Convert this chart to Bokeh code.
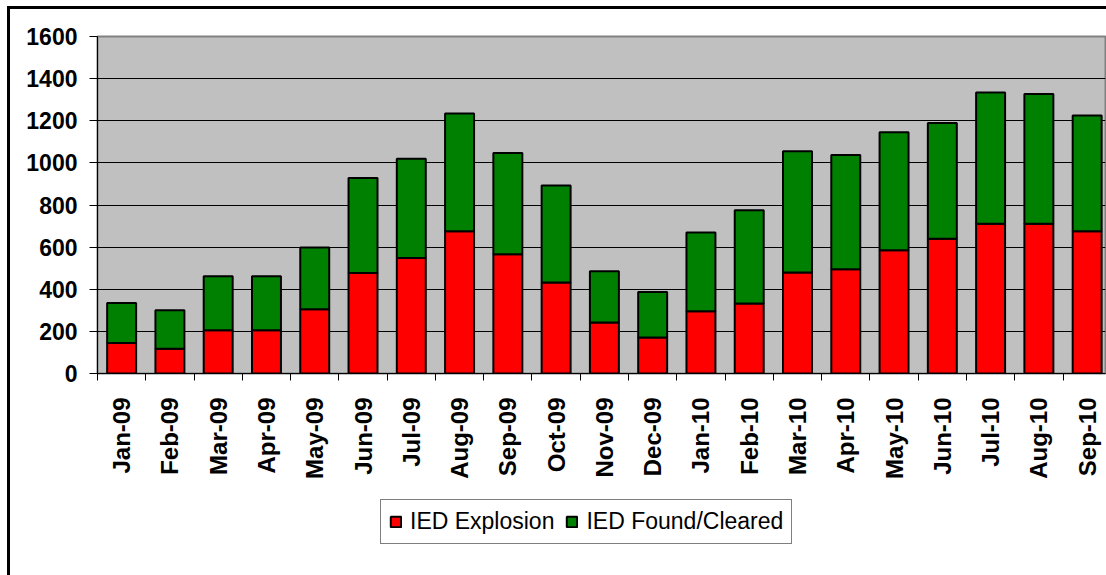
import math
import numpy as np
from bokeh.plotting import figure
from bokeh.layouts import column
from bokeh.models import ColumnDataSource, Range1d, FixedTicker, Legend, LegendItem
from bokeh.embed import file_html
from bokeh.resources import INLINE

# ---- data ----
months = ["Jan-09", "Feb-09", "Mar-09", "Apr-09", "May-09", "Jun-09", "Jul-09",
          "Aug-09", "Sep-09", "Oct-09", "Nov-09", "Dec-09", "Jan-10", "Feb-10",
          "Mar-10", "Apr-10", "May-10", "Jun-10", "Jul-10", "Aug-10", "Sep-10"]
ied_explosion = [145, 118, 205, 205, 305, 477, 548, 675, 566, 432, 242, 171,
                 296, 332, 479, 495, 585, 640, 711, 711, 675]
ied_found_cleared = [190, 182, 257, 257, 293, 451, 472, 560, 481, 461, 243, 216,
                     373, 443, 576, 542, 560, 549, 623, 616, 550]
series_labels = ["IED Explosion", "IED Found/Cleared"]
series_colors = ["#FF0000", "#008000"]
y_ticks = [0, 200, 400, 600, 800, 1000, 1200, 1400, 1600]

FONT = "Liberation Sans"

x_centers = [i + 0.5 for i in range(len(months))]
boundaries = list(range(len(months) + 1))

src = ColumnDataSource(dict(x=x_centers, explosion=ied_explosion, found=ied_found_cleared))

# ---------------- main chart ----------------
p = figure(width=1096, height=484,
           x_range=Range1d(0, 20.88), y_range=Range1d(0, 1600),
           output_backend="svg", toolbar_location=None,
           min_border_left=87, min_border_top=27, min_border_right=1,
           min_border_bottom=120)

p.background_fill_color = "#C0C0C0"
p.border_fill_color = "white"
p.outline_line_color = "#808080"
p.outline_line_width = 2

rs = p.vbar_stack(["explosion", "found"], x="x", width=0.6, source=src,
                  fill_color=series_colors, line_color="black", line_width=2)

# grid
p.xgrid.visible = False
p.ygrid.ticker = FixedTicker(ticks=y_ticks[1:-1])
p.ygrid.grid_line_color = "black"
p.ygrid.grid_line_width = 1

# x axis
xa = p.xaxis[0]
xa.ticker = FixedTicker(ticks=x_centers, minor_ticks=boundaries)
xa.major_label_overrides = {xc: m for xc, m in zip(x_centers, months)}
xa.major_tick_out = 0
xa.major_tick_in = 0
xa.minor_tick_out = 7
xa.minor_tick_in = 0
xa.minor_tick_line_color = "black"
xa.axis_line_color = "black"
xa.major_label_orientation = math.pi / 2
xa.major_label_standoff = 17
xa.major_label_text_font = FONT
xa.major_label_text_font_style = "bold"
xa.major_label_text_font_size = "24px"
xa.major_label_text_color = "black"

# y axis
ya = p.yaxis[0]
ya.ticker = FixedTicker(ticks=y_ticks)
ya.major_tick_out = 8
ya.major_tick_in = 0
ya.minor_tick_out = 0
ya.minor_tick_in = 0
ya.major_tick_line_color = "black"
ya.axis_line_color = "black"
ya.major_label_standoff = 12
ya.major_label_text_font = FONT
ya.major_label_text_font_style = "bold"
ya.major_label_text_font_size = "23px"
ya.major_label_text_color = "black"

# ---------------- legend strip ----------------
lg = figure(width=1096, height=82, x_range=Range1d(0, 1), y_range=Range1d(0, 1),
            output_backend="svg", toolbar_location=None,
            x_axis_type=None, y_axis_type=None,
            min_border_left=0, min_border_right=0, min_border_top=0, min_border_bottom=0)
lg.outline_line_color = None
lg.background_fill_color = "white"
lg.border_fill_color = "white"
lg.xgrid.visible = False
lg.ygrid.visible = False

# legend swatches (renderers with NaN data, so nothing is drawn in the strip)
nan_src = ColumnDataSource(dict(x=np.array([np.nan]), top=np.array([np.nan])))
legend_renderers = [lg.vbar(x="x", top="top", width=0.5, source=nan_src, fill_color=c,
                            line_color="black", line_width=2)
                    for c in series_colors]

legend = Legend(items=[LegendItem(label=lab, renderers=[r])
                       for lab, r in zip(series_labels, legend_renderers)],
                location=(283, 31), orientation="horizontal",
                label_text_font=FONT, label_text_font_size="23px",
                label_text_color="black",
                glyph_width=13, glyph_height=13, label_standoff=8,
                spacing=11, padding=8, margin=0,
                border_line_color="black", border_line_width=1,
                background_fill_color="white", background_fill_alpha=1.0)
lg.add_layout(legend)

layout = column(p, lg, spacing=0,
                styles={"border-left": "3px solid black", "border-top": "3px solid black",
                        "margin-left": "7px", "margin-top": "6px"})

open("out.html", "w").write(file_html(layout, INLINE))
